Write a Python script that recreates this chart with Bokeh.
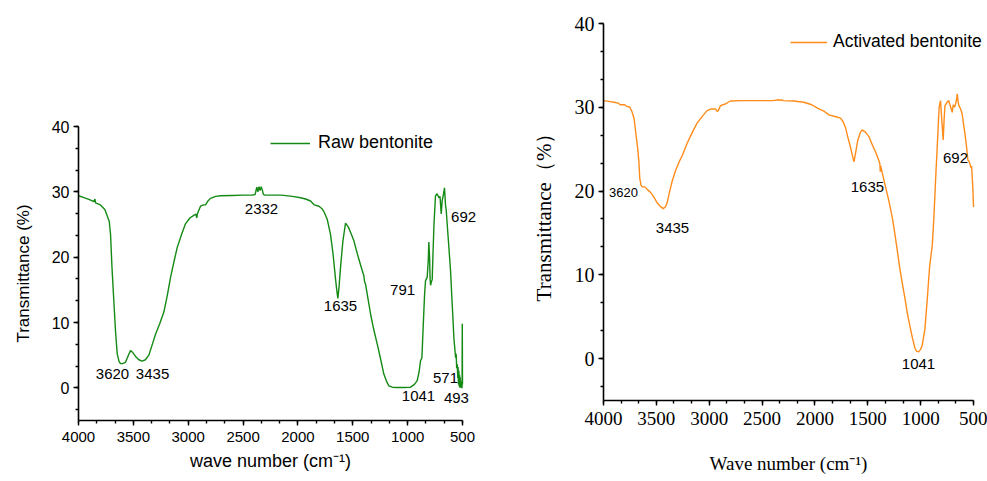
from bokeh.plotting import figure
from bokeh.models import (Range1d, SingleIntervalTicker, Legend, LegendItem, LinearAxis,
                          LabelSet, ColumnDataSource, Grid)
from bokeh.core.properties import value
from bokeh.embed import file_html
from bokeh.resources import INLINE

# ---------------- data ----------------
raw_wn = [4000, 3950, 3900, 3860, 3850, 3845, 3800, 3760, 3738, 3720, 3708, 3695, 3678, 3662,
          3647, 3630, 3617, 3600, 3572, 3545, 3526, 3505, 3480, 3450, 3420, 3390, 3359, 3330,
          3298, 3260, 3222, 3190, 3161, 3130, 3100, 3060, 3025, 2985, 2949, 2930, 2922, 2915,
          2888, 2860, 2842, 2820, 2797, 2750, 2706, 2600, 2500, 2420, 2390, 2375, 2365, 2355,
          2345, 2335, 2325, 2315, 2300, 2250, 2150, 2050, 1976, 1930, 1885, 1850, 1809, 1780,
          1764, 1733, 1703, 1680, 1657, 1645, 1636, 1625, 1612, 1590, 1566, 1540, 1515, 1490,
          1460, 1429, 1400, 1392, 1384, 1360, 1338, 1310, 1277, 1245, 1217, 1190, 1171, 1140,
          1095, 1040, 974, 940, 913, 895, 883, 870, 858, 845, 837, 822, 812, 807, 800, 795,
          791, 784, 776, 770, 760, 746, 731, 715, 705, 694, 685, 676, 664, 655, 648, 635, 624,
          609, 594, 585, 579, 570, 563, 558, 553, 548, 543, 540, 537, 533, 530, 527, 524, 521,
          518, 515, 512, 509, 506, 504, 502, 500]
raw_t = [29.4, 29.1, 28.8, 28.5, 28.9, 28.3, 28.0, 27.3, 26.3, 25.5, 23.5, 18.5, 13.3, 8.5,
         5.2, 4.0, 3.7, 3.7, 3.9, 5.0, 5.7, 5.4, 4.8, 4.3, 4.1, 4.3, 5.0, 6.5,
         8.2, 9.8, 11.6, 14.2, 16.9, 19.3, 21.5, 23.5, 25.1, 26.0, 26.4, 26.6, 26.0, 26.7,
         27.8, 28.0, 28.0, 28.6, 29.0, 29.3, 29.4, 29.45, 29.5, 29.5, 29.6, 30.7, 30.0, 30.8,
         30.2, 30.8, 30.3, 29.6, 29.5, 29.5, 29.5, 29.3, 29.1, 28.9, 28.6, 28.0, 27.8, 27.4,
         27.0, 25.8, 23.5, 20.5, 16.6, 14.8, 13.7, 15.5, 18.4, 22.5, 25.2, 24.6, 23.6, 22.5,
         20.6, 18.8, 17.2, 16.2, 15.9, 13.5, 11.3, 9.0, 6.7, 4.3, 2.1, 0.9, 0.3, 0.1,
         0.05, 0.05, 0.1, 0.5, 1.1, 2.5, 4.1, 4.6, 9.5, 14.5, 16.4, 16.9, 19.5, 22.3, 20.0, 16.5,
         15.7, 16.2, 16.6, 20.0, 25.0, 29.4, 29.7, 29.1, 29.3, 26.6, 28.7, 29.4, 30.6, 28.0, 27.1, 24.0, 21.5,
         17.9, 12.8, 10.0, 7.7, 6.0, 4.6, 5.2, 3.0, 3.6, 1.5, 3.2, 0.5, 2.6, 0.2, 2.0, 0.0, 1.6,
         0.0, 1.0, 0.0, 0.6, 0.0, 0.0, 9.8, 0.5]

act_wn = [4000, 3950, 3900, 3860, 3842, 3800, 3779, 3750, 3731, 3710, 3697, 3676, 3665, 3657,
          3645, 3635, 3610, 3587, 3560, 3540, 3515, 3493, 3465, 3436, 3415, 3398, 3375, 3350,
          3320, 3287, 3250, 3209, 3160, 3115, 3060, 3020, 2980, 2941, 2925, 2915, 2893, 2870,
          2846, 2820, 2799, 2700, 2600, 2500, 2400, 2340, 2330, 2320, 2300, 2200, 2105, 2030,
          1963, 1910, 1868, 1810, 1758, 1735, 1711, 1690, 1663, 1645, 1630, 1615, 1594, 1570,
          1553, 1520, 1490, 1460, 1427, 1400, 1386, 1382, 1378, 1360, 1332, 1300, 1269, 1245,
          1222, 1200, 1174, 1150, 1127, 1100, 1080, 1055, 1041, 1020, 1000, 985, 960, 938, 915,
          890, 875, 858, 843, 825, 812, 800, 787, 778, 770, 749, 735, 718, 701, 692, 680, 670,
          660, 654, 645, 638, 622, 607, 591, 580, 566, 553, 545, 535, 525, 518, 512, 505, 500]
act_t = [30.8, 30.7, 30.6, 30.5, 30.3, 30.3, 30.1, 30.0, 29.5, 28.6, 27.2, 25.0, 23.5, 21.5,
         20.7, 20.5, 20.5, 20.2, 19.9, 19.6, 19.1, 18.6, 18.2, 17.9, 18.1, 18.6, 19.9, 21.2,
         22.4, 23.4, 24.4, 25.7, 27.0, 28.1, 29.0, 29.6, 29.8, 29.8, 29.5, 29.6, 30.2, 30.3,
         30.4, 30.6, 30.75, 30.8, 30.8, 30.8, 30.8, 30.9, 30.8, 30.9, 30.8, 30.75, 30.6, 30.3,
         29.8, 29.5, 29.1, 28.9, 28.7, 28.3, 27.6, 26.5, 25.2, 24.2, 23.5, 24.6, 26.1, 27.0,
         27.3, 27.0, 26.5, 25.6, 24.7, 23.8, 23.3, 22.3, 23.0, 22.0, 20.5, 18.8, 16.9, 15.0,
         13.0, 11.0, 9.0, 7.3, 5.5, 3.8, 2.6, 1.3, 0.9, 0.8, 1.1, 1.6, 3.5, 7.0, 11.0,
         13.5, 16.8, 21.5, 25.3, 30.0, 30.8, 28.5, 26.1, 28.5, 30.2, 30.6, 30.8, 30.1, 29.4, 30.3, 30.0, 30.4,
         30.9, 31.6, 30.6, 30.2, 29.8, 29.2, 27.7, 26.8, 25.3, 23.7, 23.6, 23.3, 22.8, 23.0, 21.7, 20.0, 18.1]

raw_peak_text = ["3620", "3435", "2332", "1635", "791", "692", "1041", "571", "493"]
raw_peak_x = [3690, 3325, 2332, 1612, 1046, 490, 901, 655, 555]
raw_peak_y = [2.1, 2.1, 27.4, 12.6, 15.0, 26.2, -1.2, 1.5, -1.5]

act_peak_text = ["3620", "3435", "1635", "1041", "692"]
act_peak_x = [3811, 3347, 1503, 1020, 670]
act_peak_y = [19.8, 15.6, 20.5, -0.7, 24.0]

x_min, x_max = 500, 4000
y_min, y_max = -5, 40
x_ticks_interval = 500
y_ticks_interval = 10

GREEN = "#148a14"
ORANGE = "#ff8c1a"
SANS = "Liberation Sans"
SERIF = "Liberation Serif"
W, H = 987, 481


def ranges_for(left, right, top, bottom):
    """Ranges over the whole canvas so that the axes box sits at these pixels."""
    xs = (right - left) / (x_max - x_min)
    ys = (bottom - top) / (y_max - y_min)
    xr = Range1d(x_max + left / xs, x_max - (W - left) / xs)
    yr = Range1d(y_min - (H - bottom) / ys, y_max + top / ys)
    return xr, yr


xr1, yr1 = ranges_for(78, 462, 126, 420)
xr2, yr2 = ranges_for(603, 973, 23, 400)

p = figure(width=W, height=H, x_range=xr1, y_range=yr1, output_backend="svg",
           toolbar_location=None, x_axis_location=None, y_axis_location=None,
           min_border=0, min_border_left=0, min_border_right=0, min_border_top=0,
           min_border_bottom=0)
p.extra_x_ranges = {"act": xr2}
p.extra_y_ranges = {"act": yr2}
p.outline_line_color = None
for g in p.center:
    if isinstance(g, Grid):
        g.visible = False


def styled(ax, font, size, bounds, standoff):
    ax.bounds = bounds
    ax.axis_line_width = 1.6
    ax.axis_line_color = "black"
    ax.major_tick_in = 0
    ax.major_tick_out = 5
    ax.minor_tick_in = 0
    ax.minor_tick_out = 3
    ax.major_tick_line_width = 1.4
    ax.minor_tick_line_width = 1.4
    ax.major_label_text_font = font
    ax.major_label_text_font_size = size
    ax.major_label_text_color = "black"
    ax.axis_label_text_font = font
    ax.axis_label_text_font_style = "normal"
    ax.axis_label_text_color = "black"
    ax.major_label_standoff = standoff
    return ax


def xticker():
    return SingleIntervalTicker(interval=x_ticks_interval, num_minor_ticks=3)


def yticker():
    return SingleIntervalTicker(interval=y_ticks_interval, num_minor_ticks=3)


# axes of the left chart (raw bentonite)
xa1 = styled(LinearAxis(ticker=xticker(), fixed_location=y_min), SANS, "15px",
             (x_min, x_max), 6)
xa1.axis_label = "wave number (cm\u207b\u00b9)"
xa1.axis_label_text_font_size = "18px"
xa1.axis_label_standoff = 6
ya1 = styled(LinearAxis(ticker=yticker(), fixed_location=x_max), SANS, "16px",
             (y_min, y_max), 4)
ya1.axis_label = "Transmittance (%)"
ya1.axis_label_text_font_size = "17px"
ya1.axis_label_standoff = 16
p.add_layout(xa1, "below")
p.add_layout(ya1, "left")

# axes of the right chart (activated bentonite)
xa2 = styled(LinearAxis(ticker=xticker(), fixed_location=y_min,
                        x_range_name="act", y_range_name="act"),
             SERIF, "19px", (x_min, x_max), 6)
xa2.axis_label = "Wave number (cm\u207b\u00b9)"
xa2.axis_label_text_font_size = "19px"
xa2.axis_label_standoff = 25
ya2 = styled(LinearAxis(ticker=yticker(), fixed_location=x_max,
                        x_range_name="act", y_range_name="act"),
             SERIF, "20px", (y_min, y_max), 4)
ya2.axis_label = "Transmittance（%）"
ya2.axis_label_text_font_size = "21px"
ya2.axis_label_standoff = 16
p.add_layout(xa2, "below")
p.add_layout(ya2, "left")

# spectra
r1 = p.line(raw_wn, raw_t, line_color=GREEN, line_width=1.4)
r2 = p.line(act_wn, act_t, line_color=ORANGE, line_width=1.4,
            x_range_name="act", y_range_name="act")

# legends (location = left / bottom offset from the canvas, in px)
leg1 = Legend(items=[LegendItem(label="Raw bentonite", renderers=[r1])],
              location=(270, H - 141 - 12), padding=0, margin=0, spacing=0,
              glyph_width=40, glyph_height=20, label_height=20, label_standoff=8,
              label_text_font=SANS, label_text_font_size="18px", label_text_color="black",
              border_line_alpha=0, background_fill_alpha=0)
leg2 = Legend(items=[LegendItem(label="Activated bentonite", renderers=[r2])],
              location=(790, H - 40 - 12), padding=0, margin=0, spacing=0,
              glyph_width=37, glyph_height=20, label_height=20, label_standoff=6,
              label_text_font=SANS, label_text_font_size="17.5px", label_text_color="black",
              border_line_alpha=0, background_fill_alpha=0)
p.add_layout(leg1)
p.add_layout(leg2)

# peak labels
src1 = ColumnDataSource(dict(x=raw_peak_x, y=raw_peak_y, t=raw_peak_text))
p.add_layout(LabelSet(x="x", y="y", text="t", source=src1, text_align="center",
                      text_baseline="middle", text_font=value(SANS),
                      text_font_size=value("15px"), text_color="black"))
act_label_sizes = ["13px", "15px", "15px", "15px", "15px"]
src2 = ColumnDataSource(dict(x=act_peak_x, y=act_peak_y, t=act_peak_text, s=act_label_sizes))
p.add_layout(LabelSet(x="x", y="y", text="t", source=src2, text_align="center",
                      text_baseline="middle", text_font=value(SANS),
                      text_font_size="s", text_color="black",
                      x_range_name="act", y_range_name="act"))

open("out.html", "w").write(file_html(p, INLINE))
